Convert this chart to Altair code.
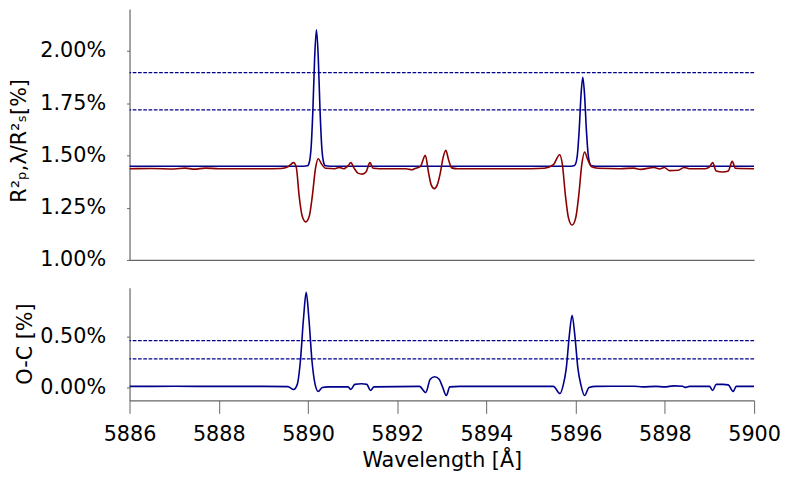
import altair as alt
import pandas as pd

# ---- data ----
wl_model = [5886.0, 5889.9, 5889.99, 5890.03, 5890.07, 5890.11, 5890.15, 5890.19,
            5890.23, 5890.27, 5890.31, 5890.35, 5890.39, 5890.5,
            5895.9, 5895.96, 5896.00, 5896.04, 5896.08, 5896.12, 5896.16,
            5896.20, 5896.24, 5896.28, 5896.32, 5896.36, 5896.45, 5900.0]
model = [1.448, 1.448, 1.450, 1.467, 1.536, 1.716, 1.97, 2.10,
         1.97, 1.716, 1.536, 1.467, 1.450, 1.448,
         1.448, 1.450, 1.460, 1.505, 1.623, 1.788, 1.873,
         1.788, 1.623, 1.505, 1.460, 1.450, 1.448, 1.448]

wl_data = [5886.0, 5886.5, 5887.0, 5887.25, 5887.45, 5887.7, 5888.0, 5888.5, 5889.0, 5889.4,
           5889.55, 5889.68, 5889.74, 5889.80, 5889.87, 5889.95, 5890.03, 5890.10, 5890.17,
           5890.23, 5890.30, 5890.40, 5890.6, 5890.7, 5890.8, 5890.9, 5890.96, 5891.03,
           5891.12, 5891.22, 5891.3, 5891.39, 5891.46, 5891.6, 5892.0, 5892.2, 5892.33,
           5892.40, 5892.52, 5892.63, 5892.70, 5892.76, 5892.83, 5892.90, 5892.97, 5893.03,
           5893.09, 5893.15, 5893.22, 5893.35, 5894.0, 5895.0, 5895.3, 5895.5, 5895.64,
           5895.70, 5895.77, 5895.84, 5895.92, 5896.00, 5896.07, 5896.14, 5896.20, 5896.27,
           5896.36, 5896.5, 5897.0, 5897.3, 5897.45, 5897.76, 5897.88, 5897.99, 5898.1,
           5898.3, 5898.43, 5898.55, 5898.9, 5899.0, 5899.07, 5899.15, 5899.3, 5899.42,
           5899.51, 5899.58, 5900.0]
data = [1.436, 1.437, 1.435, 1.439, 1.434, 1.439, 1.436, 1.436, 1.436, 1.437,
        1.445, 1.465, 1.44, 1.31, 1.21, 1.182, 1.21, 1.31, 1.44,
        1.484, 1.46, 1.438, 1.436, 1.442, 1.436, 1.45, 1.465, 1.44,
        1.415, 1.41, 1.42, 1.465, 1.438, 1.436, 1.436, 1.436, 1.431,
        1.437, 1.447, 1.50, 1.42, 1.36, 1.341, 1.36, 1.42, 1.49,
        1.524, 1.48, 1.440, 1.436, 1.436, 1.436, 1.438, 1.455, 1.503,
        1.46, 1.31, 1.20, 1.167, 1.20, 1.31, 1.46, 1.516, 1.48,
        1.445, 1.438, 1.436, 1.439, 1.433, 1.442, 1.435, 1.442, 1.427,
        1.429, 1.442, 1.436, 1.436, 1.445, 1.465, 1.425, 1.420, 1.425,
        1.471, 1.438, 1.436]

wl_oc = [5886.0, 5887.0, 5888.0, 5889.0, 5889.55, 5889.68, 5889.76, 5889.83, 5889.90,
         5889.96, 5890.02, 5890.09, 5890.16, 5890.23, 5890.32, 5890.45, 5890.9, 5890.96,
         5891.05, 5891.2, 5891.32, 5891.40, 5891.48, 5892.5, 5892.64, 5892.74, 5892.84,
         5892.94, 5893.02, 5893.10, 5893.18, 5893.4, 5895.5, 5895.65, 5895.72, 5895.79,
         5895.86, 5895.92, 5895.98, 5896.05, 5896.12, 5896.20, 5896.3, 5896.45, 5897.3,
         5897.5, 5897.8, 5897.99, 5898.2, 5898.4, 5898.45, 5898.55, 5899.0, 5899.07,
         5899.15, 5899.3, 5899.42, 5899.53, 5899.6, 5900.0]
oc = [0.010, 0.011, 0.010, 0.010, 0.008, -0.02, 0.03, 0.26, 0.68,
      0.935, 0.68, 0.26, 0.03, -0.04, 0.0, 0.005, 0.005, -0.02,
      0.03, 0.036, 0.03, -0.03, 0.005, 0.01, -0.05, 0.08, 0.105,
      0.08, 0.0, -0.08, 0.005, 0.01, 0.01, -0.06, 0.02, 0.19,
      0.52, 0.71, 0.52, 0.19, 0.02, -0.08, 0.0, 0.01, 0.012,
      0.005, 0.01, 0.005, 0.015, 0.012, 0.0, 0.01, 0.01, -0.03,
      0.03, 0.03, 0.025, -0.04, 0.01, 0.01]

top_dash = [1.895, 1.717]
oc_dash = [0.46, 0.28]
x_ticks = [5886, 5888, 5890, 5892, 5894, 5896, 5898, 5900]
top_ticks = [1.0, 1.25, 1.5, 1.75, 2.0]
oc_ticks = [0.0, 0.5]

BLUE = "#00008B"
RED = "#8B0000"
GREY = "#666666"
FS = 20.8

df_model = pd.DataFrame({"wl": wl_model, "v": model})
df_data = pd.DataFrame({"wl": wl_data, "v": data})
df_oc = pd.DataFrame({"wl": wl_oc, "v": oc})
df_tdash = pd.DataFrame({"v": top_dash})
df_odash = pd.DataFrame({"v": oc_dash})

pct = "format(datum.value, '.2f') + '%'"
xscale = alt.Scale(domain=[5886, 5900], nice=False, zero=False)

# ---- top panel ----
x_top = alt.X("wl:Q", scale=xscale,
              axis=alt.Axis(labels=False, ticks=False, title=None, domainColor=GREY))
y_top_axis = alt.Axis(values=top_ticks, labelExpr=pct, tickSize=3, labelPadding=21,
                      title="R²ₚ,λ/R²ₛ[%]", titleX=-110, titleY=132,
                      titleBaseline="middle", labelFlush=False)
y_top = alt.Y("v:Q", scale=alt.Scale(domain=[1.0, 2.2], nice=False, zero=False),
              axis=y_top_axis)

top_model = alt.Chart(df_model).mark_line(color=BLUE, strokeWidth=1.6,
                                          interpolate="monotone", clip=True).encode(x=x_top, y=y_top)
top_data = alt.Chart(df_data).mark_line(color=RED, strokeWidth=1.6,
                                        interpolate="monotone", clip=True).encode(x=x_top, y=y_top)
top_rules = alt.Chart(df_tdash).mark_rule(color=BLUE, strokeWidth=1.2,
                                          strokeDash=[3.7, 1.6]).encode(y=alt.Y("v:Q"))
top = alt.layer(top_rules, top_model, top_data).properties(width=627, height=252)

# ---- bottom panel ----
x_bot = alt.X("wl:Q", scale=xscale,
              axis=alt.Axis(values=x_ticks, format="d", tickSize=13, labelPadding=11,
                            title="Wavelength [Å]", titlePadding=7,
                            labelFlush=False, labelOverlap=False))
y_bot = alt.Y("v:Q", scale=alt.Scale(domain=[-0.1275, 0.98], nice=False, zero=False),
              axis=alt.Axis(values=oc_ticks, labelExpr=pct, tickSize=3, labelPadding=21,
                            title="O-C [%]", titleX=-104, titleY=56,
                            titleBaseline="middle", labelFlush=False))

bot_line = alt.Chart(df_oc).mark_line(color=BLUE, strokeWidth=1.6,
                                      interpolate="monotone", clip=True).encode(x=x_bot, y=y_bot)
bot_rules = alt.Chart(df_odash).mark_rule(color=BLUE, strokeWidth=1.2,
                                          strokeDash=[3.7, 1.6]).encode(y=alt.Y("v:Q"))
bottom = alt.layer(bot_rules, bot_line).properties(width=627, height=113)

chart = alt.vconcat(top, bottom, spacing=18).properties(
    padding={"left": 0, "top": 0, "right": 0, "bottom": 0}
).configure_view(stroke=None).configure_axis(
    grid=False, labelFont="DejaVu Sans", titleFont="DejaVu Sans",
    labelFontSize=FS, titleFontSize=FS, labelColor="black", titleColor="black",
    titleFontWeight="normal", domainColor=GREY, tickColor=GREY, domainWidth=1.2
)

chart.save("out.html", embed_options={"renderer": "svg", "actions": False})
